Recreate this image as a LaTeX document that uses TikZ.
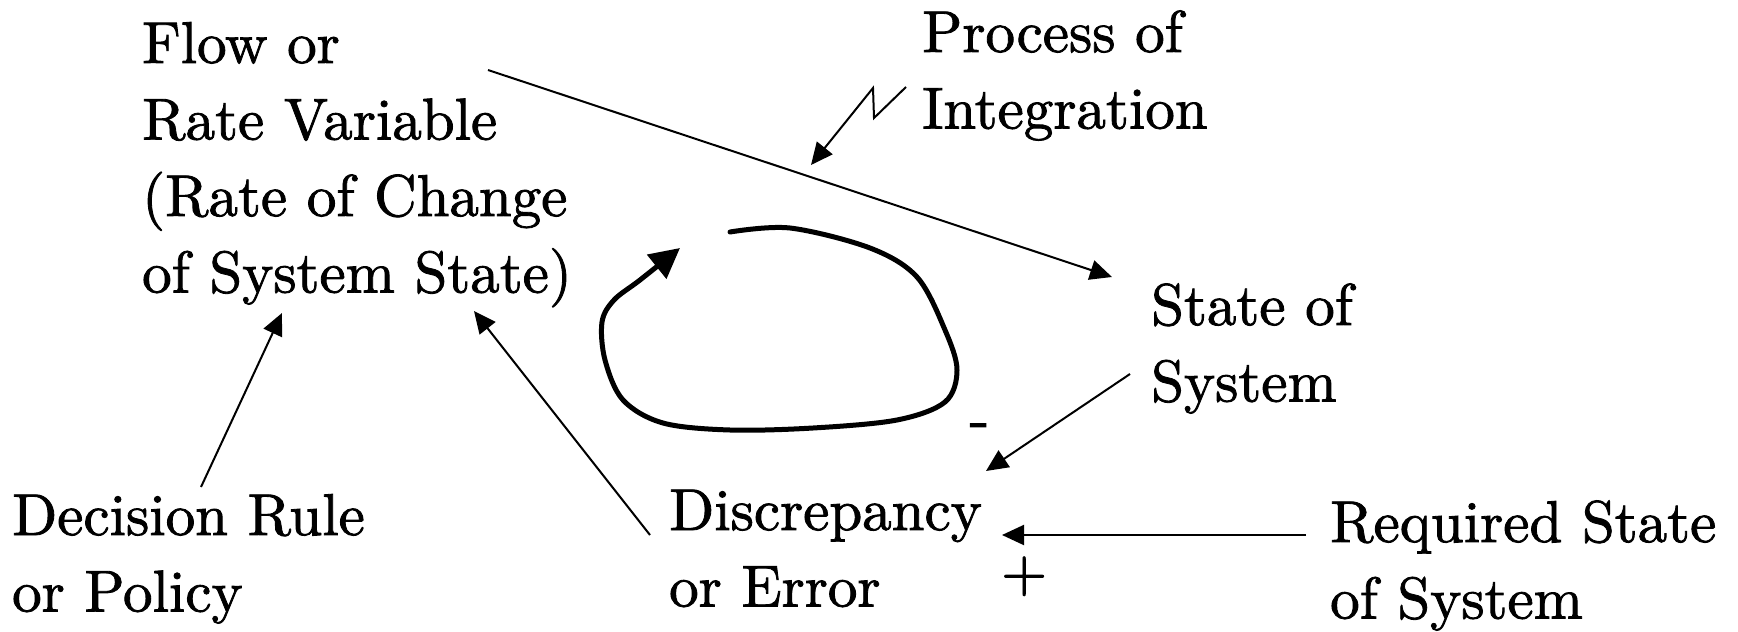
\documentclass[tikz,border=0pt]{standalone}
\usetikzlibrary{arrows.meta}
% heavier roman face for the labels
\font\labelfont="[lmroman10-regular]:mapping=tex-text;embolden=1.4" at 59pt
\newcommand{\lines}[1]{\begin{tabular}[t]{@{}l@{}}#1\end{tabular}}
\begin{document}
\begin{tikzpicture}[x=1pt,y=-1pt,
  label/.style={font={\fontsize{59}{76.5}\selectfont\labelfont}, inner sep=0pt, anchor=base west},
  link/.style={line width=2pt, -{Triangle[length=22pt,width=20pt]}},
  loopline/.style={line width=5pt, line cap=round, -{Triangle[length=30pt,width=30pt]}}]
\useasboundingbox (0,0) rectangle (1738,632);

% text blocks
\node[label] (flow) at (142,63) {\lines{Flow or\\Rate Variable\\(Rate of Change\\of System State)}};
\node[label] (proc) at (922,52) {\lines{Process of\\Integration}};
\node[label] (state) at (1151,325) {\lines{State of\\System}};
\node[label] (dec) at (12,535) {\lines{Decision Rule\\or Policy}};
\node[label] (disc) at (669,530) {\lines{Discrepancy\\or Error}};
\node[label] (req) at (1330,542) {\lines{Required State\\of System}};
\node[label] (minus) at (969.5,438) {-};
\node[label] (plus) at (1001,591) {+};

% connector end points
\coordinate (flowR) at (488,70);
\coordinate (stateT) at (1112,277);
\coordinate (procA) at (906,87);
\coordinate (procB) at (874,118);
\coordinate (procC) at (873,88);
\coordinate (procT) at (811,165);
\coordinate (decT) at (201,487);
\coordinate (flowB1) at (282,313);
\coordinate (discL) at (650,535);
\coordinate (flowB2) at (474,311);
\coordinate (stateL) at (1130,374);
\coordinate (discT) at (986,471);
\coordinate (reqL) at (1306,535);
\coordinate (discR) at (1002,535);

% connectors
\draw[link] (flowR) -- (stateT);
\draw[link] (procA) -- (procB) -- (procC) -- (procT);
\draw[link] (decT) -- (flowB1);
\draw[link] (discL) -- (flowB2);
\draw[link] (stateL) -- (discT);
\draw[link] (reqL) -- (discR);

% feedback loop
\draw[loopline] plot[smooth, tension=0.55] coordinates {
  (730,232) (790,228) (870,248) (917,277) (945,330) (957,370)
  (945,402) (897,420) (813,428) (730,430) (663,423) (623,400)
  (605,360) (602,322) (614,300) (640,280) (680,248)};
\end{tikzpicture}
\end{document}
